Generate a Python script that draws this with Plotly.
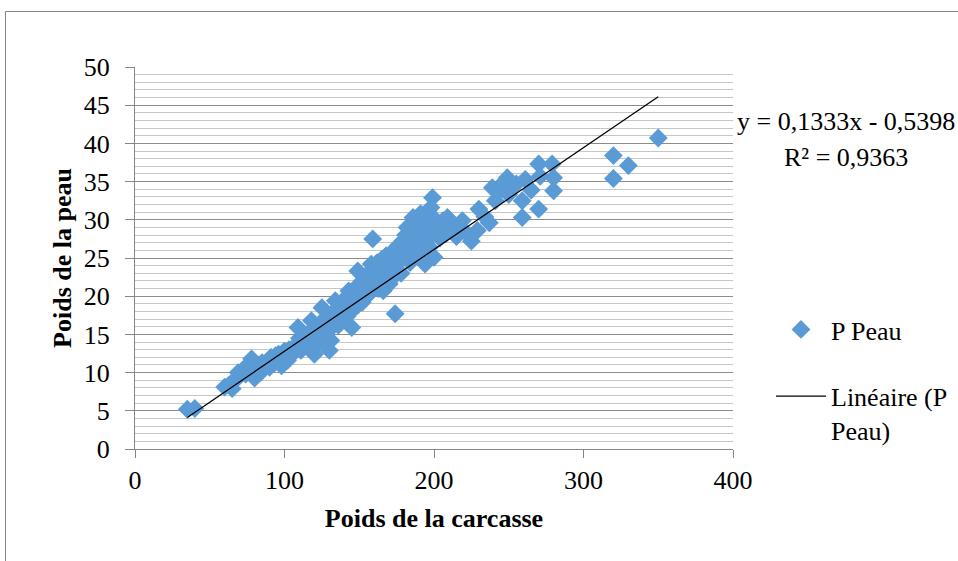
import plotly.graph_objects as go

# ---- data ----
carcasse = [35, 40,
    60, 63, 65, 66, 68, 69, 70, 72, 73, 74, 75, 77, 78, 79, 80, 80,
    82, 83, 84, 85, 86, 88, 89, 90, 91, 92, 93, 94, 95, 96, 97, 98, 99, 100, 100,
    101, 102, 103, 104, 105, 106, 107, 108, 109, 110, 110, 111, 112, 113, 114, 115, 116, 117, 118, 118, 119, 120, 120, 121, 122, 122, 123, 124, 125, 125,
    126, 127, 128, 129, 130, 130, 131, 132, 132, 133, 134, 134, 135, 136, 137, 138, 138, 139, 140, 141, 141, 142, 143, 143, 144, 145, 145, 146, 147, 147, 148, 149, 149, 150, 150,
    151, 152, 152, 153, 154, 155, 155, 156, 157, 158, 158, 159, 159, 160, 160, 161, 162, 162, 163, 164, 165, 165, 166, 166, 167, 168, 169, 170, 170, 171, 172, 173, 174, 174, 175, 175,
    176, 177, 178, 179, 179, 180, 181, 182, 182, 183, 184, 185, 186, 186, 187, 188, 189, 190, 190, 191, 192, 193, 194, 195, 196, 197, 198, 199, 199, 200, 200,
    202, 204, 206, 208, 209, 211, 213, 215, 217, 219, 221, 225, 229, 230,
    234, 237, 239, 241, 243, 246, 249, 250, 252, 255, 259, 259, 261, 265, 270, 270, 271, 279, 280, 280,
    320, 320, 330, 350]
peau = [5.2, 5.3,
    8.1, 8.4, 7.9, 8.9, 9.2, 10.0, 9.6, 10.3, 10.5, 9.8, 10.2, 10.9, 11.8, 10.6, 9.3, 11.2,
    10.4, 11.0, 10.0, 11.3, 10.8, 11.1, 11.6, 10.7, 12.0, 11.8, 11.2, 12.2, 11.5, 12.4, 11.9, 10.9, 12.6, 11.3, 12.8,
    12.1, 11.6, 13.0, 12.4, 12.4, 13.3, 12.8, 13.6, 15.9, 13.3, 14.5, 12.9, 14.1, 13.6, 14.0, 14.8, 13.9, 15.3, 16.8, 14.4, 15.7, 12.4, 15.0, 14.5, 13.7, 16.0, 15.4, 16.5, 18.5, 14.8,
    15.9, 16.8, 15.0, 17.2, 12.9, 16.3, 14.2, 17.5, 16.0, 18.0, 19.4, 16.7, 17.9, 16.2, 17.7, 18.7, 17.1, 19.1, 18.2, 18.5, 19.8, 17.4, 20.7, 18.9, 19.5, 15.9, 20.2, 18.3, 21.0, 19.3, 20.4, 23.3, 18.8, 19.8, 21.5,
    20.6, 22.0, 19.2, 21.4, 21.1, 22.5, 20.0, 23.0, 21.8, 24.2, 20.6, 27.5, 22.6, 21.2, 23.5, 22.0, 22.4, 24.4, 21.0, 23.2, 24.8, 22.0, 20.7, 23.8, 22.6, 25.3, 23.8, 21.6, 24.6, 23.0, 25.8, 22.5, 17.7, 24.2, 25.9, 23.4,
    26.6, 24.6, 23.0, 27.2, 25.4, 26.2, 28.0, 29.0, 25.0, 27.2, 24.4, 28.4, 30.3, 26.8, 25.6, 29.4, 27.6, 28.4, 25.8, 30.8, 26.8, 29.0, 24.2, 27.8, 30.0, 26.4, 31.6, 32.9, 28.2, 25.1, 30.2,
    28.8, 27.6, 29.9, 28.2, 30.3, 28.6, 29.4, 27.8, 29.0, 29.9, 28.4, 27.2, 28.6, 31.4,
    30.4, 29.6, 34.2, 32.5, 33.6, 34.8, 35.5, 33.3, 34.4, 34.7, 32.5, 30.3, 35.3, 33.9, 37.3, 31.4, 35.7, 37.3, 35.5, 33.8,
    38.4, 35.4, 37.1, 40.7]

slope = 0.1333
intercept = -0.5398
r2 = 0.9363
trend_x = [35, 350]
trend_y = [slope * v + intercept for v in trend_x]

x_ticks = [0, 100, 200, 300, 400]
y_ticks = [0, 5, 10, 15, 20, 25, 30, 35, 40, 45, 50]

FONT = "Liberation Serif, Times New Roman, serif"
W, H = 958, 561
L, R, T, B = 135, 225, 67, 112
pw, ph = W - L - R, H - T - B


def px_x(p):
    return (p - L) / pw


def px_y(p):
    return (H - B - p) / ph


fig = go.Figure()
fig.add_trace(go.Scatter(
    x=carcasse, y=peau, mode="markers", name="P Peau",
    marker=dict(symbol="diamond", size=14.5, color="#5B9BD5", line=dict(width=0)),
    legendgroup="a", hoverinfo="skip"))
fig.add_trace(go.Scatter(
    x=trend_x, y=trend_y, mode="lines", name="Linéaire (P<br>Peau)",
    line=dict(color="black", width=1.3),
    legendgroup="b", hoverinfo="skip"))

fig.update_layout(
    width=W, height=H,
    margin=dict(l=L, r=R, t=T, b=B, pad=0, autoexpand=False),
    paper_bgcolor="white", plot_bgcolor="white",
    font=dict(family=FONT, size=26, color="black"),
    showlegend=True,
    legend=dict(x=px_x(771), y=px_y(306), xanchor="left", yanchor="top",
                bgcolor="rgba(0,0,0,0)", borderwidth=0,
                font=dict(family=FONT, size=26, color="black"),
                tracegroupgap=30, valign="top", itemwidth=50),
    xaxis=dict(range=[0, 400], tickvals=x_ticks, showgrid=False, zeroline=False,
               showline=True, linecolor="#868686", linewidth=1,
               ticks="outside", ticklen=8, tickcolor="#868686",
               tickfont=dict(family=FONT, size=26, color="black"),
               title=dict(text="<b>Poids de la carcasse</b>", standoff=14,
                          font=dict(family=FONT, size=26, color="black")),
               automargin=False),
    yaxis=dict(range=[0, 50], tickvals=y_ticks, showgrid=True, gridcolor="#8c8c8c",
               gridwidth=1, zeroline=False,
               showline=True, linecolor="#868686", linewidth=1,
               ticks="outside", ticklen=9, tickcolor="#868686",
               ticklabelstandoff=10,
               minor=dict(dtick=1, showgrid=True, gridcolor="#c6c6c6", gridwidth=1, ticks=""),
               tickfont=dict(family=FONT, size=26, color="black"),
               title=dict(text="<b>Poids de la peau</b>", standoff=4,
                          font=dict(family=FONT, size=26, color="black")),
               automargin=False),
)

fig.add_annotation(xref="paper", yref="paper", x=px_x(846), y=px_y(121),
                   text="y = 0,1333x - 0,5398", showarrow=False,
                   xanchor="center", yanchor="middle",
                   font=dict(family=FONT, size=26, color="black"))
fig.add_annotation(xref="paper", yref="paper", x=px_x(846), y=px_y(157),
                   text="R² = 0,9363", showarrow=False,
                   xanchor="center", yanchor="middle",
                   font=dict(family=FONT, size=26, color="black"))

# outer chart frame
fig.add_shape(type="rect", xref="paper", yref="paper",
              x0=px_x(5.5), y0=-1, x1=2, y1=px_y(11.5),
              line=dict(color="#868686", width=1), fillcolor="rgba(0,0,0,0)", layer="below")

fig.write_html("out.html")
